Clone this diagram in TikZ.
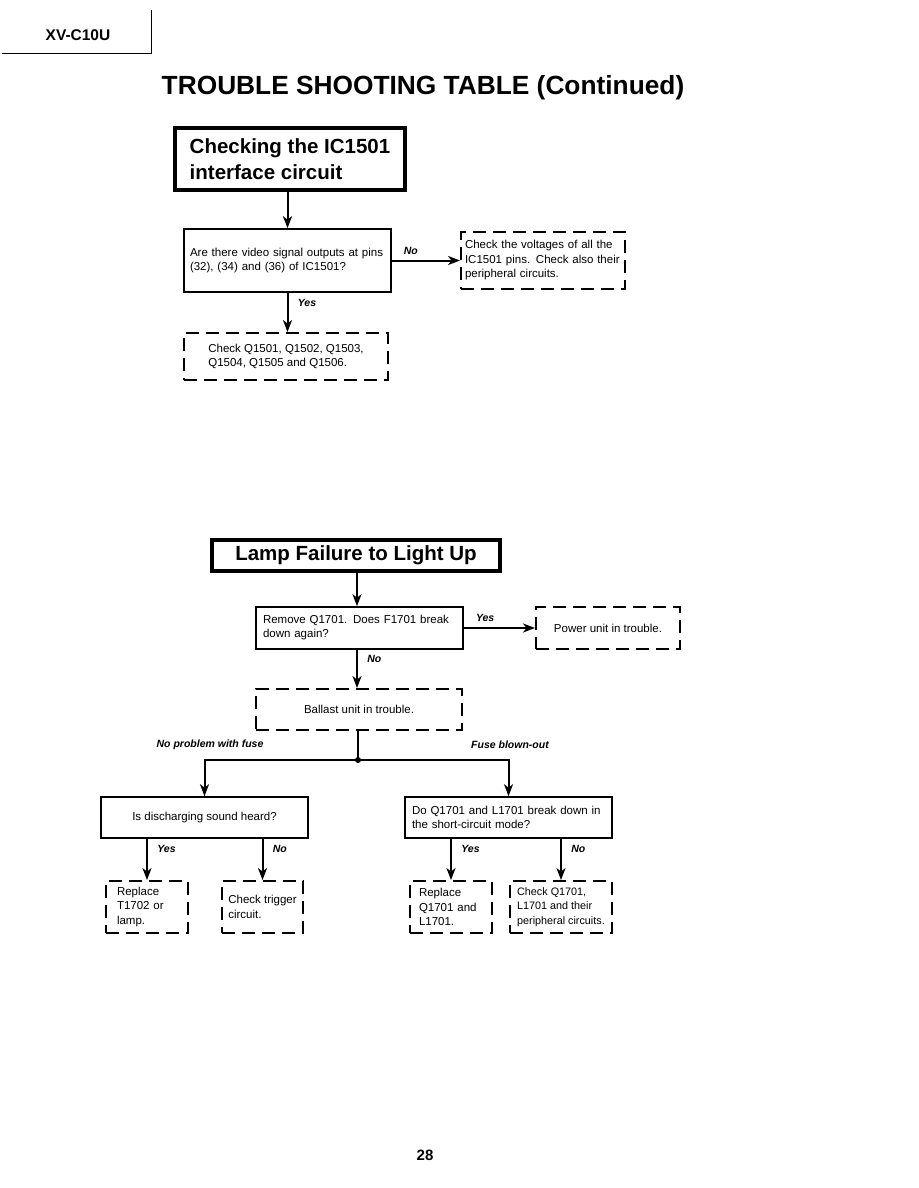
\documentclass[tikz,border=0pt]{standalone}
\usepackage{fontspec}
\setmainfont{Liberation Sans}
\usetikzlibrary{arrows.meta,calc}

\begin{document}
\begin{tikzpicture}[x=1pt,y=-1pt,>={Stealth[length=12pt,width=9pt,inset=3.5pt]},
    line join=miter,
    head@/.style={draw,line width=3.6pt,inner sep=0pt,font=\fontsize{20.5}{26}\selectfont\bfseries},
    ask@/.style={draw,line width=1.6pt,inner sep=0pt,font=\fontsize{11.5}{14}\selectfont},
    fix@/.style={draw,line width=1.9pt,dash pattern=on 13pt off 7pt,inner sep=0pt,
      font=\fontsize{11.5}{14.5}\selectfont},
    lab@/.style={font=\fontsize{10.5}{12}\selectfont\bfseries\itshape},
    arr@/.style={line width=2pt,->}]
  \useasboundingbox[fill=white] (0,0) rectangle (918,1188);

  % Page head.
  \draw[line width=1pt] (2,54) -- (151,54) -- (151,10);
  \node[font=\fontsize{15.5}{18}\selectfont\bfseries] (model) at (78,35) {XV-C10U};
  \node[font=\fontsize{26.3}{30}\selectfont\bfseries] (title) at (423,88)
    {TROUBLE SHOOTING TABLE (Continued)};

  % Checking the IC1501 interface circuit.
  \node[head@,minimum width=230,minimum height=62,align=left] (ichead) at (290,159)
    {Checking the IC1501\\interface circuit};
  \node[ask@,minimum width=207,minimum height=63,text width=195,align=left]
    (icask) at (287.5,260.5)
    {Are there video signal outputs at pins\\(32), (34) and (36) of IC1501?};
  \node[fix@,minimum width=164,minimum height=57,text width=156,align=left]
    (icpins) at (543,260.5)
    {Check the voltages of all the\\IC1501 pins. Check also their\\peripheral circuits.};
  \node[fix@,minimum width=204,minimum height=47,align=left] (icq) at (286,356.5)
    {Check Q1501, Q1502, Q1503,\\Q1504, Q1505 and Q1506.};

  \draw[arr@] (icask.north |- ichead.south) -- (icask.north);
  \draw[arr@] (icask.east) -- node[lab@,above=2pt,pos=.28] {No} (icpins.west);
  \draw[arr@] (icask.south) -- node[lab@,right=6pt,pos=.25] {Yes} (icask.south |- icq.north);

  % Lamp failure to light up.
  \node[head@,minimum width=288,minimum height=31] (lamphead) at (356,555.5)
    {Lamp Failure to Light Up};
  \node[ask@,minimum width=207,minimum height=42,text width=193,align=left]
    (remove) at (359.5,628)
    {Remove Q1701. Does F1701 break\\down again?};
  \node[fix@,minimum width=144,minimum height=42] (power) at (608,628)
    {Power unit in trouble.};
  \node[fix@,minimum width=206,minimum height=41] (ballast) at (359,709.5)
    {Ballast unit in trouble.};
  \coordinate (split) at (358,760);

  \draw[arr@] (lamphead.south -| 357,0) -- (remove.north -| 357,0);
  \draw[arr@] (remove.east) -- node[lab@,above=2pt,pos=.3] {Yes} (power.west);
  \draw[arr@] (remove.south -| 357,0) -- node[lab@,right=6pt,pos=.25] {No} (ballast.north -| 357,0);
  \draw[line width=2pt] (ballast.south -| split) -- (split);
  \fill (split) circle (3pt);

  \node[ask@,minimum width=207,minimum height=41] (sound) at (204.5,817.5)
    {Is discharging sound heard?};
  \node[ask@,minimum width=207,minimum height=41,text width=193,align=left]
    (short) at (508.5,817.5)
    {Do Q1701 and L1701 break down in\\the short-circuit mode?};
  \node[lab@] (nofuse) at (210,745) {No problem with fuse};
  \node[lab@] (blown) at (510,745) {Fuse blown-out};
  \draw[arr@] (split) -| (sound.north);
  \draw[arr@] (split) -| (short.north);

  \node[fix@,minimum width=82,minimum height=52,text width=60,align=left] (repT) at (147,907)
    {Replace\\T1702 or\\lamp.};
  \node[fix@,minimum width=81,minimum height=52,align=left] (trig) at (262.5,907)
    {Check trigger\\circuit.};
  \node[fix@,minimum width=82,minimum height=52,text width=64,align=left] (repQ) at (451,907)
    {Replace\\Q1701 and\\L1701.};
  \node[fix@,minimum width=102,minimum height=52,align=left,
    font=\fontsize{10.8}{14.5}\selectfont] (chkQ) at (561,907)
    {Check Q1701,\\L1701 and their\\peripheral circuits.};

  \draw[arr@] (sound.south -| repT) -- node[lab@,right=6pt,pos=.25] {Yes} (repT.north);
  \draw[arr@] (sound.south -| trig) -- node[lab@,right=6pt,pos=.25] {No} (trig.north);
  \draw[arr@] (short.south -| repQ) -- node[lab@,right=6pt,pos=.25] {Yes} (repQ.north);
  \draw[arr@] (short.south -| chkQ) -- node[lab@,right=6pt,pos=.25] {No} (chkQ.north);

  \node[font=\fontsize{15}{18}\selectfont\bfseries] (page) at (425,1155) {28};
\end{tikzpicture}
\end{document}
